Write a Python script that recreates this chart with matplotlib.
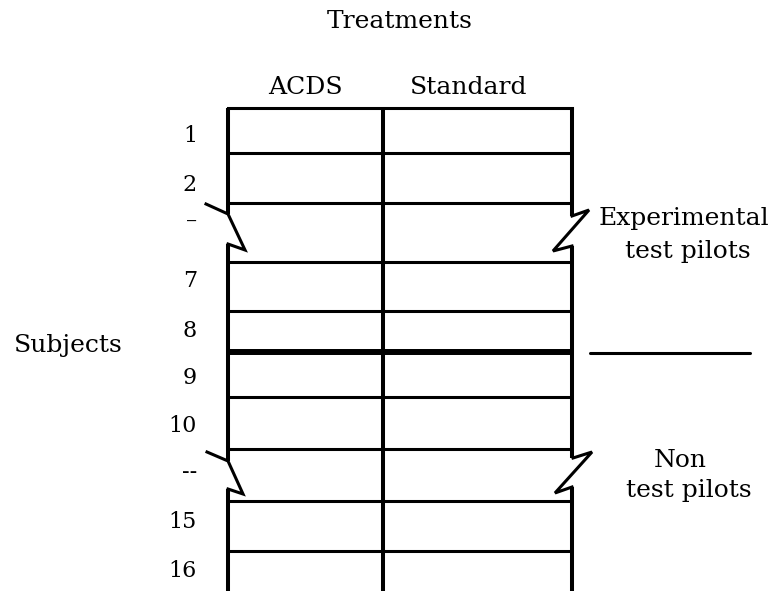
import matplotlib
matplotlib.use("Agg")
import matplotlib.pyplot as plt

# ---- content (diagram layout in pixel space) ----
treatments = ["ACDS", "Standard"]
subject_labels = ["1", "2", "–", "7", "8", "9", "10", "--", "15", "16"]
subject_baselines = [142, 191, 228, 287, 337, 384, 432, 478, 528, 577]
row_lines = [153, 203, 262, 311, 397, 449, 501, 551]
group_divider = 352
group_names = ["Experimental\ntest pilots", "Non\ntest pilots"]

W, H = 782, 591
fig = plt.figure(figsize=(W / 100, H / 100), dpi=100)
ax = fig.add_axes([0, 0, 1, 1])
ax.set_xlim(0, W)
ax.set_ylim(H, 0)
ax.axis("off")

FONT = "DejaVu Serif"
K = "black"
x_left, x_mid, x_right = 228, 383, 572
top = 108

lw_v = 2.9
lw_h = 2.2

# top border
ax.plot([x_left, x_right], [top, top], color=K, lw=lw_h, solid_capstyle="projecting")
# horizontal row lines
for y in row_lines:
    ax.plot([x_left, x_right], [y, y], color=K, lw=lw_h, solid_capstyle="butt")
# thick group divider
ax.plot([x_left, x_right], [group_divider, group_divider], color=K, lw=4.3,
        solid_capstyle="butt")
ax.plot([590, 750], [group_divider + 1, group_divider + 1], color=K, lw=2.2,
        solid_capstyle="round")

# middle vertical (continuous)
ax.plot([x_mid, x_mid], [top, H], color=K, lw=lw_v, solid_capstyle="butt")

# left vertical segments with breaks
for y0, y1 in [(top, 214), (244, 461), (489, H)]:
    ax.plot([x_left, x_left], [y0, y1], color=K, lw=lw_v, solid_capstyle="butt")
# right vertical segments with breaks
for y0, y1 in [(top, 216), (246, 458), (487, H)]:
    ax.plot([x_right, x_right], [y0, y1], color=K, lw=lw_v, solid_capstyle="butt")

# break (lightning) symbols
bolts = [
    [(206, 204), (228, 214), (245, 250), (228, 244)],
    [(207, 452), (228, 461), (243, 494), (228, 489)],
    [(572, 216), (589, 210), (553, 251), (572, 246)],
    [(573, 458), (592, 452), (555, 493), (572, 487)],
]
for b in bolts:
    xs, ys = zip(*b)
    ax.plot(xs, ys, color=K, lw=2.2, solid_joinstyle="miter")

# texts
TS = 18
ax.text(400, 28, "Treatments", fontsize=TS, family=FONT, ha="center", va="baseline")
ax.text(305, 94, treatments[0], fontsize=TS, family=FONT, ha="center", va="baseline")
ax.text(469, 94, treatments[1], fontsize=TS, family=FONT, ha="center", va="baseline")
ax.text(68, 352, "Subjects", fontsize=TS, family=FONT, ha="center", va="baseline")

for lab, yb in zip(subject_labels, subject_baselines):
    ax.text(197, yb, lab, fontsize=16, family=FONT, ha="right", va="baseline")

ax.text(684, 225, "Experimental", fontsize=TS, family=FONT, ha="center", va="baseline")
ax.text(688, 258, "test pilots", fontsize=TS, family=FONT, ha="center", va="baseline")
ax.text(680, 467, "Non", fontsize=TS, family=FONT, ha="center", va="baseline")
ax.text(689, 497, "test pilots", fontsize=TS, family=FONT, ha="center", va="baseline")

fig.savefig("out.png", dpi=100)
